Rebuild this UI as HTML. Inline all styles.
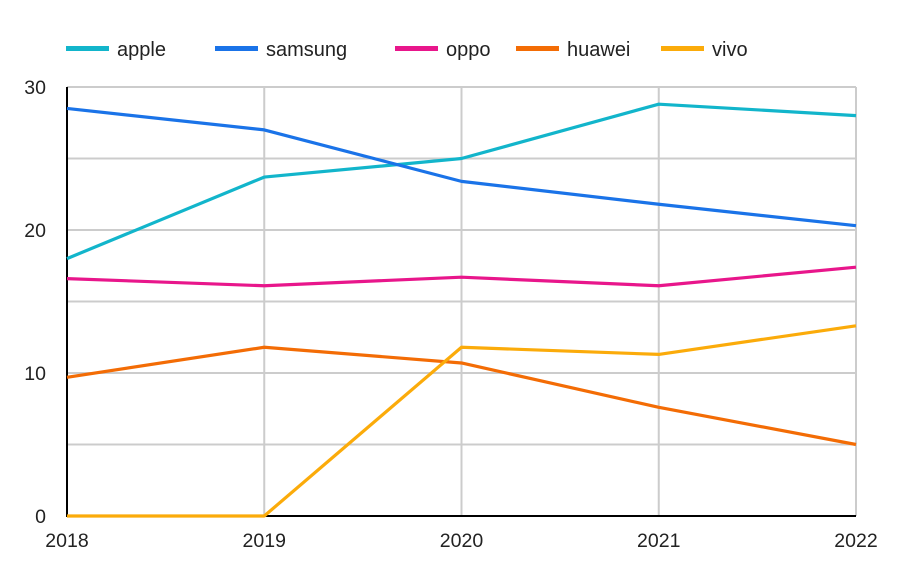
<!DOCTYPE html>
<html><head><meta charset="utf-8"><style>
body{margin:0;background:#fff;font-family:"Liberation Sans",sans-serif}
</style></head><body>
<svg id="c" width="902" height="562" xmlns="http://www.w3.org/2000/svg"></svg>
<script>
const categories=["2018","2019","2020","2021","2022"];
const seriesNames=["apple","samsung","oppo","huawei","vivo"];
const seriesColors=["#12b5cb","#1a73e8","#e8168b","#f36c05","#fbab0a"];
const apple=[18.0,23.7,25.0,28.8,28.0];
const samsung=[28.5,27.0,23.4,21.8,20.3];
const oppo=[16.6,16.1,16.7,16.1,17.4];
const huawei=[9.7,11.8,10.7,7.6,5.0];
const vivo=[0,0,11.8,11.3,13.3];
const yTicks=[0,10,20,30];
const yGrid=[5,10,15,20,25,30];
const series=[apple,samsung,oppo,huawei,vivo];
const svg=document.getElementById('c');const NS="http://www.w3.org/2000/svg";
const x0=67,x1=856,y0=516,y1=87,yMax=30;
const X=i=>x0+(x1-x0)*i/(categories.length-1);
const Y=v=>y0-(y0-y1)*v/yMax;
function mk(t,a,p){const e=document.createElementNS(NS,t);for(const k in a)e.setAttribute(k,a[k]);(p||svg).appendChild(e);return e;}
yGrid.forEach(v=>{const l=mk('line',{x1:x0,x2:x1,y1:Y(v),y2:Y(v),stroke:'#cccccc','stroke-width':2});

});
categories.forEach((c,i)=>{if(i>0){const l=mk('line',{x1:X(i),x2:X(i),y1:y1,y2:y0,stroke:'#cccccc','stroke-width':2});

}
const t=mk('text',{x:X(i),y:547,'text-anchor':'middle','font-size':19.5,fill:'#222'});t.textContent=c;

});
yTicks.forEach(v=>{const t=mk('text',{x:46,y:Y(v)+7,'text-anchor':'end','font-size':19.5,fill:'#222'});t.textContent=v;

});
const ax=mk('line',{x1:x0,x2:x0,y1:y1,y2:y0+1,stroke:'#000','stroke-width':2});


const bx=mk('line',{x1:x0-1,x2:x1,y1:y0,y2:y0,stroke:'#000','stroke-width':2});


series.forEach((s,k)=>{const p=mk('polyline',{points:s.map((v,i)=>X(i)+','+Y(v)).join(' '),fill:'none',stroke:seriesColors[k],'stroke-width':3.2,'stroke-linejoin':'round'});

});
const lx=[66,215,395,516,661];
seriesNames.forEach((n,k)=>{const g=mk('g',{});


mk('rect',{x:lx[k],y:46,width:43,height:5,fill:seriesColors[k]},g);
const t=mk('text',{x:lx[k]+51,y:56,'font-size':20,fill:'#222'},g);t.textContent=n;});
</script>
</body></html>
